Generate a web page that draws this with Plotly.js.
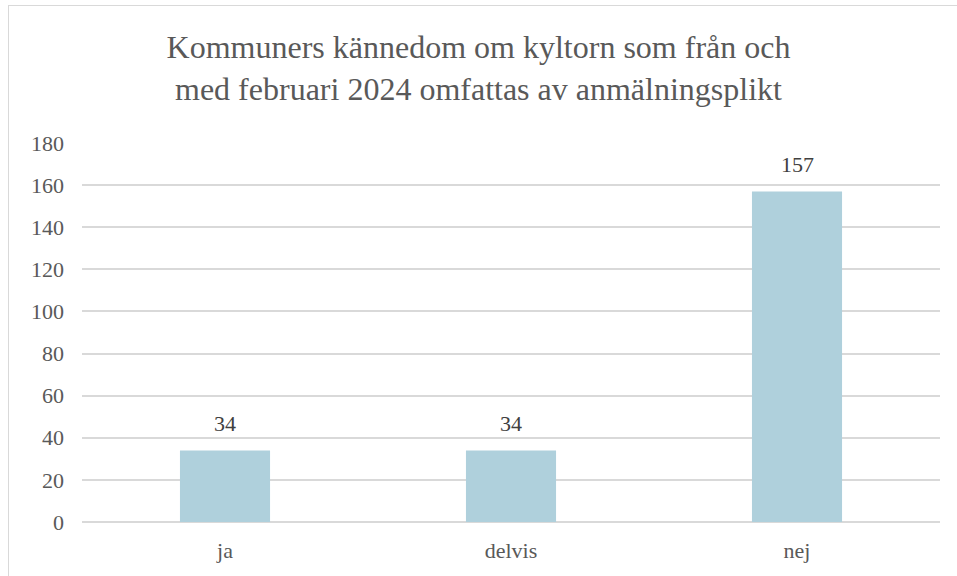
<!DOCTYPE html>
<html>
<head>
<meta charset="utf-8">
<script src="https://cdn.plot.ly/plotly-3.0.1.min.js"></script>
<style>
  html, body { margin: 0; padding: 0; background: #fff; width: 957px; height: 576px; overflow: hidden; }
  #wrap { position: relative; width: 957px; height: 576px; overflow: hidden; }
  #chart { position: absolute; left: 0; top: 0; width: 957px; height: 576px; }
  #frame { position: absolute; left: 8px; top: 5px; width: 1000px; height: 1000px; border: 1px solid #d9d9d9; pointer-events: none; }
</style>
</head>
<body>
<div id="wrap">
  <div id="chart"></div>
  <div id="frame"></div>
</div>
<script>
const categories = ["ja", "delvis", "nej"];
const values = [34, 34, 157];
const yTicks = [0, 20, 40, 60, 80, 100, 120, 140, 160, 180];
const titleText = "Kommuners kännedom om kyltorn som från och<br>med februari 2024 omfattas av anmälningsplikt";

const serifFamily = "Times New Roman";
const textColor = "#595959";

const barTrace = { type: "bar", x: categories, y: values, marker: { color: "#afd0dc" } };

const valueLabels = categories.map((c, i) => ({
  x: c, y: values[i], xref: "x", yref: "y",
  text: String(values[i]), showarrow: false, yanchor: "bottom", yshift: 12,
  font: { family: serifFamily, size: 22, color: "#404040" }
}));

const chartLayout = {
  width: 957, height: 576,
  margin: { l: 82, r: 17, t: 143, b: 54 },
  paper_bgcolor: "#ffffff", plot_bgcolor: "#ffffff",
  bargap: 0.685, showlegend: false,
  font: { family: serifFamily, size: 22, color: textColor },
  annotations: valueLabels,
  title: { text: titleText, font: { family: serifFamily, size: 32, color: textColor },
           x: 0.5, xanchor: "center", y: 0.899, yanchor: "top" },
  xaxis: { type: "category", tickfont: { family: serifFamily, size: 22, color: textColor },
           showline: false, showgrid: false, ticks: "", zeroline: false, ticklabelstandoff: 13 },
  yaxis: { range: [0, 180], tickvals: yTicks, ticktext: yTicks.map(String),
           tickfont: { family: serifFamily, size: 22, color: textColor },
           showgrid: true, gridcolor: "#d9d9d9", gridwidth: 1.5,
           zeroline: true, zerolinecolor: "#d9d9d9", zerolinewidth: 1.5,
           showline: false, ticks: "", ticklabelstandoff: 17 }
};

Plotly.newPlot("chart", [barTrace], chartLayout, { displayModeBar: false });
</script>
</body>
</html>
